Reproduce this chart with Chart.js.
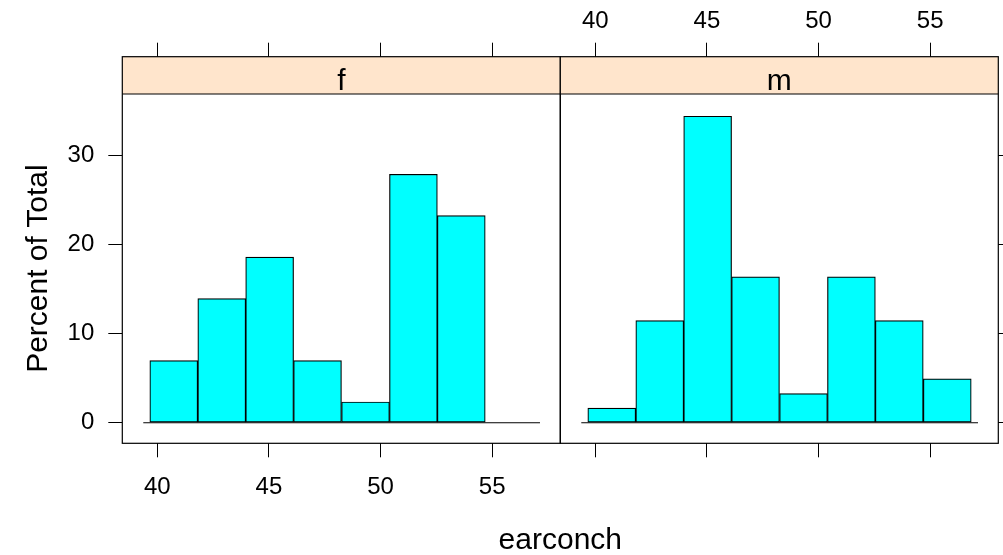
<!DOCTYPE html>
<html>
<head>
<meta charset="utf-8">
<script src="https://cdn.jsdelivr.net/npm/chart.js@4.4.0/dist/chart.umd.min.js"></script>
<style>
  html, body { margin: 0; padding: 0; background: #ffffff; }
  #wrap { width: 1003px; height: 555px; }
</style>
</head>
<body>
<div id="wrap"><canvas id="myChart" width="1003" height="555"></canvas></div>
<script>
// histogram of earconch by sex (percent of total within each panel)
var binEdges = [39.66, 41.81, 43.96, 46.10, 48.25, 50.40, 52.54, 54.69, 56.84];
var panelNames = ['f', 'm'];
var pctF = [6.98, 13.95, 18.60, 6.98, 2.33, 27.91, 23.26, 0];
var pctM = [1.64, 11.48, 34.43, 16.39, 3.28, 16.39, 11.48, 4.92];
var xTicks = [40, 45, 50, 55];
var yTicks = [0, 10, 20, 30];
var zeroLineX = [39.37, 57.14];
var xRange = [38.43, 58.05];
var yRange = [-2.31, 36.93];

var FONT = "'Liberation Sans', Arial, Helvetica, sans-serif";

function bars(values) {
    return values.map(function(v, i) {
        return { x: (binEdges[i] + binEdges[i + 1]) / 2, y: v };
    });
}
function zeroLine() {
    return zeroLineX.map(function(x) { return { x: x, y: 0 }; });
}
function noPad(s) {
    s.paddingLeft = 0; s.paddingRight = 0; s.paddingTop = 0; s.paddingBottom = 0;
}

function xScale(position, stack, showLabels, height, pad) {
    return {
        type: 'linear',
        position: position,
        stack: stack,
        stackWeight: 1,
        offset: false,
        min: xRange[0],
        max: xRange[1],
        afterBuildTicks: function(s) { s.ticks = xTicks.map(function(v) { return { value: v }; }); },
        afterFit: function(s) { s.height = height; noPad(s); },
        grid: { offset: false, drawOnChartArea: false, drawTicks: true, tickLength: position === 'top' ? 51.3 : 14, color: '#000', lineWidth: 1 },
        border: { display: false },
        ticks: {
            display: showLabels,
            autoSkip: false,
            maxRotation: 0,
            padding: pad,
            color: '#000',
            font: { family: FONT, size: 24 }
        }
    };
}

var panelPlugin = {
    id: 'panels',
    afterDraw: function(chart) {
        var c = chart.ctx;
        var area = chart.chartArea;
        var stripTop = 56.7;
        var axes = [chart.scales.xf, chart.scales.xm];
        c.save();
        axes.forEach(function(ax, i) {
            c.fillStyle = '#FFE5CC';
            c.fillRect(ax.left, stripTop, ax.right - ax.left, area.top - stripTop);
            c.strokeStyle = '#000';
            c.lineWidth = 1.2;
            c.strokeRect(ax.left, stripTop, ax.right - ax.left, area.bottom - stripTop);
            c.beginPath();
            c.moveTo(ax.left, area.top);
            c.lineTo(ax.right, area.top);
            c.stroke();
            c.fillStyle = '#000';
            c.font = '30px ' + FONT;
            c.textAlign = 'center';
            c.textBaseline = 'alphabetic';
            c.fillText(panelNames[i], (ax.left + ax.right) / 2, 89.5);
        });
        // axis titles
        c.font = '30px ' + FONT;
        c.fillStyle = '#000';
        c.textAlign = 'center';
        c.fillText('earconch', (area.left + area.right) / 2, 549);
        c.translate(47, (area.top + area.bottom) / 2);
        c.rotate(-Math.PI / 2);
        c.fillText('Percent of Total', 0, 0);
        c.restore();
    }
};

var barStyle = {
    backgroundColor: '#00FFFF',
    borderColor: '#000',
    borderWidth: 1.2,
    borderSkipped: false,
    grouped: false,
    barPercentage: 1,
    categoryPercentage: 1
};

var ctx = document.getElementById('myChart').getContext('2d');
var myChart = new Chart(ctx, {
    type: 'bar',
    data: {
        datasets: [{
            type: 'line',
            data: zeroLine(),
            xAxisID: 'xf',
            yAxisID: 'y',
            borderColor: '#000',
            borderWidth: 1.2,
            pointRadius: 0
        }, {
            type: 'line',
            data: zeroLine(),
            xAxisID: 'xm',
            yAxisID: 'y',
            borderColor: '#000',
            borderWidth: 1.2,
            pointRadius: 0
        }, Object.assign({
            label: 'f',
            data: bars(pctF),
            xAxisID: 'xf',
            yAxisID: 'y'
        }, barStyle), Object.assign({
            label: 'm',
            data: bars(pctM),
            xAxisID: 'xm',
            yAxisID: 'y'
        }, barStyle)]
    },
    options: {
        responsive: false,
        animation: false,
        devicePixelRatio: 1,
        layout: { padding: 0 },
        plugins: { legend: { display: false }, tooltip: { enabled: false } },
        scales: {
            xf: xScale('bottom', 'bot', true, 111.7, 16),
            xm: xScale('bottom', 'bot', false, 111.7, 16),
            // top boxes are laid out in reverse order, so m comes first here
            xmTop: xScale('top', 'top', true, 94, 7),
            xfTop: xScale('top', 'top', false, 94, 7),
            y: {
                type: 'linear',
                position: 'left',
                min: yRange[0],
                max: yRange[1],
                afterBuildTicks: function(s) { s.ticks = yTicks.map(function(v) { return { value: v }; }); },
                afterFit: function(s) { s.width = 122.3; noPad(s); },
                grid: { drawOnChartArea: false, drawTicks: true, tickLength: 14, color: '#000' },
                border: { display: false },
                ticks: { padding: 14, color: '#000', font: { family: FONT, size: 24 } }
            },
            y2: {
                type: 'linear',
                position: 'right',
                min: yRange[0],
                max: yRange[1],
                afterBuildTicks: function(s) { s.ticks = yTicks.map(function(v) { return { value: v }; }); },
                afterFit: function(s) { s.width = 4.7; noPad(s); },
                grid: { drawOnChartArea: false, drawTicks: true, tickLength: 14, color: '#000' },
                border: { display: false },
                ticks: { display: false }
            }
        }
    },
    plugins: [panelPlugin]
});
</script>
</body>
</html>
